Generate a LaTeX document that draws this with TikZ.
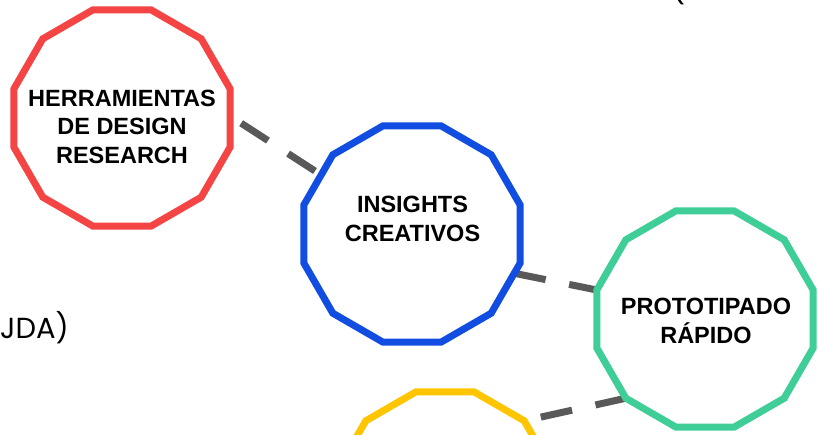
\documentclass[tikz,border=0pt]{standalone}
\usepackage{fontspec}
\setmainfont{Liberation Sans}
\newfontfamily\thinfont{Poppins}
\usetikzlibrary{shapes.geometric}
\usetikzlibrary{backgrounds}

\definecolor{polyred}{HTML}{F44444}
\definecolor{polyblue}{HTML}{114DE0}
\definecolor{polygreen}{HTML}{3FCE98}
\definecolor{polyyellow}{HTML}{FFC600}
\definecolor{dashgray}{HTML}{595959}

\begin{document}
\begin{tikzpicture}[x=1pt, y={(0pt,-1pt)},
    dodeca/.style={regular polygon, regular polygon sides=12, minimum size=224pt,
        inner sep=0pt, outer sep=0pt, line width=7pt, fill=white},
    caption/.style={font=\fontsize{23.5}{28.3}\selectfont\bfseries, align=center, inner sep=0pt},
    aside/.style={font=\thinfont\fontsize{29}{33}\selectfont, anchor=base west, inner sep=0pt},
    conn/.style={line width=7pt, dashgray, dash pattern=on 32pt off 24pt}]

    \useasboundingbox (0,0) rectangle (818,434);
    \clip (0,0) rectangle (818,434);

    \node[dodeca, draw=polyred] (herr) at (122,118) {};
    \node[dodeca, draw=polyblue] (ins) at (412,234) {};
    \node[dodeca, draw=polygreen] (proto) at (705,319) {};
    \node[dodeca, draw=polyyellow] (yel) at (445,500) {};

    \node[caption] (herr-txt) at (122,126.7) {HERRAMIENTAS\\DE DESIGN\\RESEARCH};
    \node[caption] (ins-txt) at (412.5,219) {INSIGHTS\\CREATIVOS};
    \node[caption] (proto-txt) at (706,320.8) {PROTOTIPADO\\RÁPIDO};

    \node[aside] (ayuda) at (0,338.5) {JDA)};
    \node[aside] (paren) at (672,-1) {(};

    \begin{scope}[on background layer]
    \draw[conn, shorten <=13pt] (herr.1) -- (ins.147);
    \draw[conn] (ins.-21) -- (proto.165);
    \draw[conn, shorten <=17pt] (yel.45) -- (proto.225);
    \end{scope}

\end{tikzpicture}
\end{document}
